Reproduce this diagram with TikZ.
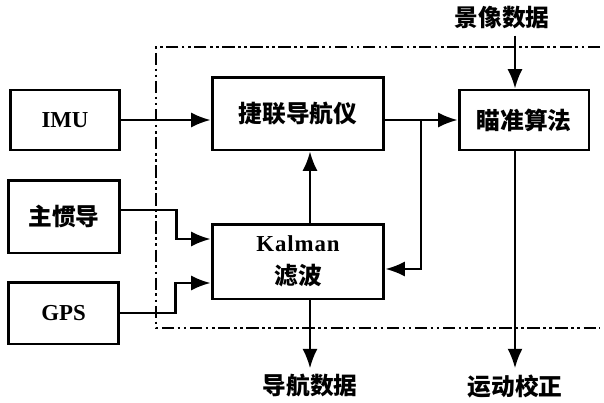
\documentclass[tikz,border=0pt]{standalone}
\usepackage{fontspec}
\setmainfont{Liberation Serif}
\newfontfamily\cjk{Noto Sans CJK SC}
\usetikzlibrary{arrows.meta,calc}

\begin{document}
\begin{tikzpicture}[x=0.02cm,y=-0.02cm,>={Latex[length=11pt,width=8.5pt]},
	every node/.style={font=\bfseries\fontsize{13}{16}\selectfont},
	blk/.style={draw,line width=1.7pt,inner sep=0pt},
	lbl/.style={font=\cjk\bfseries\fontsize{13.5}{16}\selectfont},
	flow/.style={->,line width=1.2pt}]
	\useasboundingbox (0,0) rectangle (604,402);
	% frame round the on-board part
	\draw[line width=1.2pt,dash pattern=on 7pt off 2pt on 1.5pt off 2pt on 1.5pt off 2pt] (600,47) -- (156,47) -- (156,328) -- (600,328);
	\node[blk,minimum width=2.2cm,minimum height=1.2cm] (imu) at (65,120) {IMU};
	\node[blk,lbl,minimum width=2.24cm,minimum height=1.46cm] (zgd) at (64,216.5) {主惯导};
	\node[blk,minimum width=2.22cm,minimum height=1.24cm] (gps) at (63.5,313) {GPS};
	\node[blk,lbl,minimum width=3.44cm,minimum height=1.46cm] (sins) at (298,113.5) {捷联导航仪};
	\node[blk,minimum width=3.44cm,minimum height=1.5cm,align=center] (kf) at (298,261.5) {{\addfontfeatures{LetterSpace=4}Kalman}\\[3pt]{\cjk\bfseries\fontsize{13.5}{16}\selectfont 滤波}};
	\node[blk,lbl,minimum width=2.6cm,minimum height=1.2cm] (aim) at (524,120) {瞄准算法};
	\node[lbl] (img) at (502,18) {景像数据};
	\node[lbl] (nav) at (310,386) {导航数据};
	\node[lbl] (mc) at (515,386) {运动校正};
	\coordinate (j) at (421,120);
	% connectors
	\draw[flow] (imu) -- (imu -| sins.west);
	\draw[flow] (sins.east |- j) -- (aim.west);
	\draw[flow] (j) |- ($(kf.east)+(0,7.5)$);
	\draw[flow] ($(zgd.east)+(0,-6.5)$) -- ++(55,0) |- ($(kf.west)+(0,-22.5)$);
	\draw[flow] (gps.east) -- ++(55,0) |- ($(kf.west)+(0,21.5)$);
	\draw[flow] (kf.north -| nav) -- (sins.south -| nav);
	\draw[flow] (kf.south -| nav) -- (nav.north);
	\draw[flow] (img.south -| mc) -- (aim.north -| mc);
	\draw[flow] (aim.south -| mc) -- (mc.north);
\end{tikzpicture}
\end{document}
